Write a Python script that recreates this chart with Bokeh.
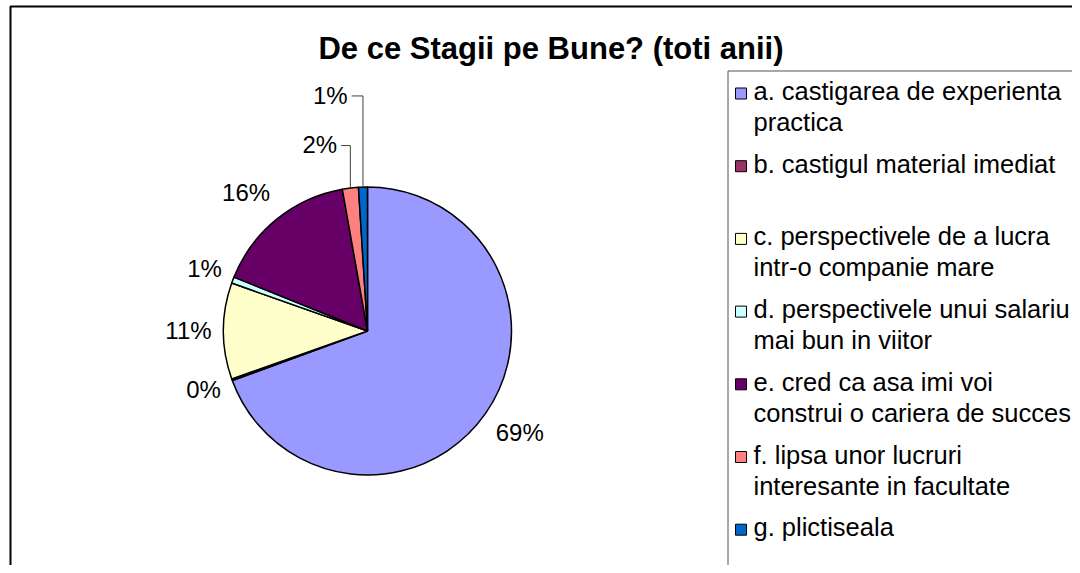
import math
import numpy as np
from bokeh.plotting import figure
from bokeh.models import Range1d, ColumnDataSource
from bokeh.embed import file_html
from bokeh.resources import INLINE
from bokeh.core.properties import value

# ---------------- data ----------------
title_text = "De ce Stagii pe Bune? (toti anii)"
category_keys = ["a", "b", "c", "d", "e", "f", "g"]
legend_lines = [
    ["a. castigarea de experienta", "practica"],
    ["b. castigul material imediat", ""],
    ["c. perspectivele de a lucra", "intr-o companie mare"],
    ["d. perspectivele unui salariu", "mai bun in viitor"],
    ["e. cred ca asa imi voi", "construi o cariera de succes"],
    ["f. lipsa unor lucruri", "interesante in facultate"],
    ["g. plictiseala"],
]
shares = [69.4, 0.2, 10.8, 0.7, 16.1, 1.8, 1.0]
colors = ["#9999FF", "#993366", "#FFFFCC", "#CCFFFF", "#660066", "#FF8080", "#0066CC"]

# ---------------- layout ----------------
W, H = 1072, 565
FONT = "Liberation Sans"
TEXT_DY = 9.5   # empirical correction of the text baseline


def fx(img_x):
    return img_x


def fy(img_y):
    return H - img_y


cx, cy, R = fx(367), fy(330.5), 144
label_fs = 24
legend_fs = 25.5
title_fs = 31
label_gap = 11
label_shift = {0: (5, 0), 4: (-10, 0), 5: (-28, 21), 6: (-32, 71)}

p = figure(width=W, height=H, x_range=Range1d(0, W), y_range=Range1d(0, H),
           output_backend="svg", toolbar_location=None, min_border=0,
           x_axis_location=None, y_axis_location=None)
p.grid.visible = False
p.outline_line_color = None
p.background_fill_color = "white"
p.border_fill_color = "white"

# outer chart border
p.quad(left=[fx(10)], right=[W + 30], top=[fy(6)], bottom=[-30],
       fill_color=None, line_color="black", line_width=2)

# title
p.text(x=[fx(550.5)], y=[fy(57.5) + TEXT_DY], text=[title_text], text_font=value(FONT),
       text_font_size=f"{title_fs}px", text_font_style="bold",
       text_align="center", text_baseline="alphabetic", text_color="black")

# ---------------- pie ----------------
fr = np.array(shares, dtype=float) / sum(shares)
cum = np.concatenate([[0.0], np.cumsum(fr)])
start_cw, end_cw = cum[:-1], cum[1:]
src = ColumnDataSource(dict(
    start=list(math.pi / 2 - 2 * math.pi * end_cw),
    end=list(math.pi / 2 - 2 * math.pi * start_cw),
    color=colors,
))
p.wedge(x=cx, y=cy, radius=R, start_angle="start", end_angle="end",
        fill_color="color", line_color="black", line_width=1.5, source=src)

# percentage labels
lx, ly, ltxt = [], [], []
for i, s in enumerate(shares):
    txt = f"{int(round(s))}%"
    m = math.pi / 2 - 2 * math.pi * (start_cw[i] + end_cw[i]) / 2
    tw = label_fs * (0.556 * (len(txt) - 1) + 0.889)
    hw, hh = tw / 2, 0.716 * label_fs / 2
    r = R + label_gap + abs(math.cos(m)) * hw + abs(math.sin(m)) * hh
    x = cx + r * math.cos(m)
    y = cy + r * math.sin(m)
    if i in label_shift:
        dx, dy = label_shift[i]
        x += dx
        y += dy
        if dy > 10:
            ex = cx + R * math.cos(m)
            ey = cy + R * math.sin(m)
            p.line(x=[x + hw + 4, ex, ex], y=[y, y, ey], line_color="#404040", line_width=1)
    lx.append(x)
    ly.append(y - 0.358 * label_fs + TEXT_DY)
    ltxt.append(txt)
p.text(x=lx, y=ly, text=ltxt, text_font=value(FONT), text_font_size=f"{label_fs}px",
       text_align="center", text_baseline="alphabetic", text_color="black")

# ---------------- legend ----------------
p.quad(left=[fx(727.5)], right=[W + 30], top=[fy(70.5)], bottom=[-30],
       fill_color="white", line_color="#505050", line_width=1)
base0 = 100.0
step = 72.7
second = 31.0
tx, ty, tt = [], [], []
mx, my = [], []
for i, lines in enumerate(legend_lines):
    b = base0 + i * step
    mx.append(fx(740.5))
    my.append(fy(b) + 7)
    for j, line in enumerate(lines):
        if line:
            tx.append(fx(753))
            ty.append(fy(b + j * second) + TEXT_DY)
            tt.append(line)
p.rect(x=mx, y=my, width=11, height=11, fill_color=colors, line_color="black", line_width=1)
p.text(x=tx, y=ty, text=tt, text_font=value(FONT), text_font_size=f"{legend_fs}px",
       text_align="left", text_baseline="alphabetic", text_color="black")

open("out.html", "w").write(file_html(p, INLINE))
